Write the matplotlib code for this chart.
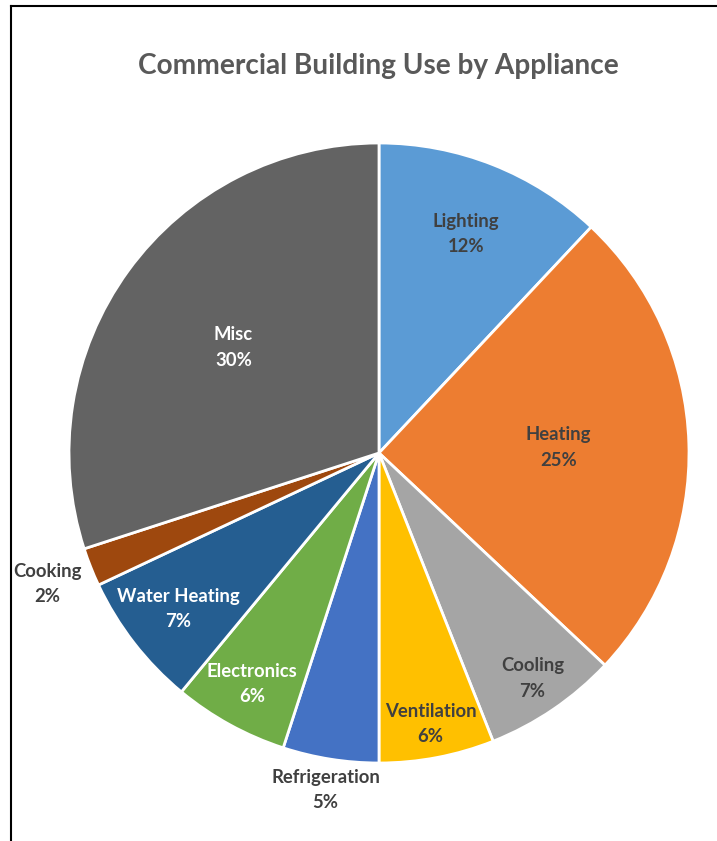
import numpy as np
import matplotlib.pyplot as plt

labels = ['Lighting', 'Heating', 'Cooling', 'Ventilation', 'Refrigeration',
          'Electronics', 'Water Heating', 'Cooking', 'Misc']
shares = [12, 25, 7, 6, 5, 6, 7, 2, 30]
colors = ['#5B9BD5', '#ED7D31', '#A5A5A5', '#FFC000', '#4472C4',
          '#70AD47', '#255E91', '#9E480E', '#636363']
# radial position of each label (fraction of radius) and its text colour
label_r = [0.76, 0.58, 0.88, 0.89, 1.10, 0.85, 0.82, 1.15, 0.58]
label_col = ['#404040', '#404040', '#404040', '#404040', '#404040',
             'white', 'white', '#404040', 'white']

W, H = 717, 841
fig = plt.figure(figsize=(W / 100, H / 100), dpi=100)
plt.rcParams['font.family'] = ['Lato', 'DejaVu Sans']

# frame lines (top and left edges of the screenshot)
fig.add_artist(plt.Line2D([11 / W, 11 / W], [0, 1 - 6 / H], color='black', lw=1.5))
fig.add_artist(plt.Line2D([11 / W, 1], [1 - 6 / H, 1 - 6 / H], color='black', lw=1.5))

cx, cy, r = 379, 453, 310
ax = fig.add_axes([(cx - r) / W, (H - cy - r) / H, 2 * r / W, 2 * r / H])
wedges, _ = ax.pie(shares, colors=colors, startangle=90, counterclock=False,
                   wedgeprops=dict(edgecolor='white', linewidth=2))
ax.set_xlim(-1, 1)
ax.set_ylim(-1, 1)
ax.set_aspect('equal')

for w, lab, s, lr, lc in zip(wedges, labels, shares, label_r, label_col):
    mid = np.deg2rad((w.theta1 + w.theta2) / 2)
    ax.text(lr * np.cos(mid), lr * np.sin(mid), f'{lab}\n{s}%', ha='center', va='center',
            fontsize=13.3, fontweight='bold', color=lc, linespacing=1.6)

fig.text(378 / W, 1 - 66 / H, 'Commercial Building Use by Appliance', ha='center', va='center',
         fontsize=20.2, fontweight='bold', color='#595959')

fig.savefig('out.png', dpi=100)
